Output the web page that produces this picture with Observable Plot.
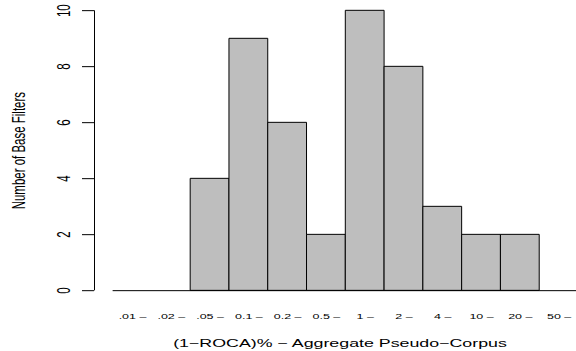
<!DOCTYPE html>
<html>
<head>
<meta charset="utf-8">
<script src="https://cdn.jsdelivr.net/npm/d3@7"></script>
<script src="https://cdn.jsdelivr.net/npm/@observablehq/plot@0.6"></script>
<style>
  html, body { margin: 0; padding: 0; background: #fff; }
  #chart { width: 576px; height: 351px; overflow: hidden; }
</style>
</head>
<body>
<div id="chart"></div>
<script>
// ---- data ----
const binLabels = [".01 –", ".02 –", ".05 –", "0.1 –", "0.2 –", "0.5 –", "1 –", "2 –", "4 –", "10 –", "20 –", "50 –"];
const counts = [0, 0, 4, 9, 6, 2, 10, 8, 3, 2, 2, 0];
const yTicks = [0, 2, 4, 6, 8, 10];
const xTitle = "(1−ROCA)% − Aggregate Pseudo−Corpus";
const yTitle = "Number of Base Filters";

const data = counts.map((c, i) => ({i, label: binLabels[i], count: c}));

// R-style plot region: 4% extension of the bar range on each side
const n = counts.length;
const ext = 0.04 * n;

// drawing is done in an unsquashed frame and then squashed vertically,
// like the reference (which was rendered wider than tall then resized)
const VH = 544;
const fontFamily = "'Liberation Sans', Arial, Helvetica, sans-serif";

const svg = Plot.plot({
  width: 576,
  height: VH,
  marginLeft: 94,
  marginRight: 0,
  marginTop: 16,
  marginBottom: 94,
  style: {fontFamily, background: "#fff", color: "#000"},
  x: {domain: [-ext, n + ext], range: [94, 596.6], axis: null},
  y: {domain: [0, 10], axis: null},
  marks: [
    Plot.rectY(data, {x1: d => d.i, x2: d => d.i + 1, y: "count", fill: "#bebebe", stroke: "#000", strokeWidth: 1}),
    Plot.ruleY([0], {x1: 0, x2: n, stroke: "#000", strokeWidth: 1}),
    Plot.ruleX([-ext], {y1: 0, y2: 10, stroke: "#000", strokeWidth: 1}),
    Plot.axisY({ticks: yTicks, tickSize: 12, tickFormat: () => "", label: null, stroke: "#000"}),
    Plot.text(yTicks, {y: d => d, text: d => String(d), frameAnchor: "left", dx: -30.5, rotate: -90, textAnchor: "middle", lineAnchor: "middle", fontSize: 17.8, fill: "#000"}),
    Plot.text([yTitle], {frameAnchor: "left", dx: -75.5, rotate: -90, textAnchor: "middle", lineAnchor: "middle", fontSize: 17.8, fill: "#000"}),
    Plot.text(data, {x: d => d.i + 0.5, y: 0, text: "label", dy: 40, textAnchor: "middle", lineAnchor: "middle", fontSize: 12.5, fill: "#000"}),
    Plot.text([xTitle], {frameAnchor: "bottom", dx: 4.5, dy: 81.7, textAnchor: "middle", lineAnchor: "middle", fontSize: 17.8, fill: "#000"})
  ]
});

svg.setAttribute("preserveAspectRatio", "none");
svg.setAttribute("height", 351);
svg.style.width = "576px";
svg.style.height = "351px";
svg.style.maxWidth = "none";
svg.style.display = "block";
svg.querySelectorAll("line, rect, path").forEach(e => e.setAttribute("vector-effect", "non-scaling-stroke"));

document.getElementById("chart").appendChild(svg);
</script>
</body>
</html>
